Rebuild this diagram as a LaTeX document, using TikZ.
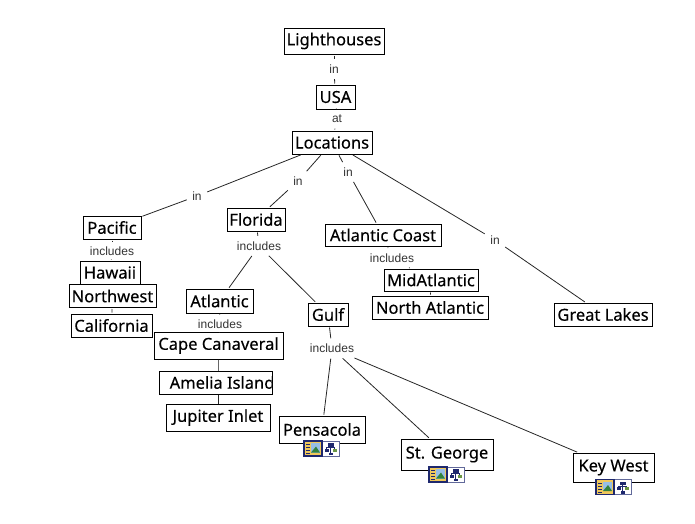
\documentclass[tikz,border=0pt]{standalone}
\usepackage{fontspec}
\setmainfont{Liberation Sans}
\newfontfamily\boxfont[FakeBold=0.25]{Noto Sans}
\definecolor{iconblue}{RGB}{30,40,110}
\definecolor{iconsand}{RGB}{240,200,90}
\definecolor{iconsky}{RGB}{150,190,230}
\definecolor{icongreen}{RGB}{50,130,60}
\tikzset{
  box/.style={draw, fill=white, line width=1pt, inner sep=0pt, font=\boxfont\fontsize{16.5}{18}\selectfont},
  rel/.style={inner sep=4.5pt, text=black!80, font=\fontsize{12}{13}\selectfont},
  link/.style={line width=.8pt, black!85, shorten <=1pt, shorten >=1pt},
  mapicons/.pic={
    \draw[iconblue!70, fill=white, line width=.7pt] (0,-7.5) rectangle (17,7.5);
    \draw[iconblue, fill=iconsand, line width=1.2pt] (-18,-7.5) rectangle (0,7.5);
    \fill[iconsky] (-11,-5.5) rectangle (-2,4);
    \fill[icongreen] (-11,4)--(-6,-2)--(-2,4)--cycle;
    \foreach \y in {-4,-1,2,5}
      \draw[iconblue, line width=.7pt] (-16,\y)--(-12,\y);
    \fill[iconblue] (5.5,-5.5) rectangle (11.5,-2);
    \fill[iconblue] (2.5,0) rectangle (6.5,3);
    \fill[icongreen!70!iconsand] (10.5,0) rectangle (14.5,3);
    \fill[iconblue] (6.5,4) rectangle (10.5,6.5);
    \draw[iconblue, line width=.6pt] (4.5,0)--(4.5,-1)--(12.5,-1)--(12.5,0) (8.5,-2)--(8.5,4);
  }
}
\begin{document}
\begin{tikzpicture}[x=1pt,y=-1pt]
\useasboundingbox (0,0) rectangle (695,523);
\node (lighthouses) at (334,41)[box, minimum width=100, minimum height=26]{Lighthouses};
\node (usa) at (335.5,97)[box, minimum width=39, minimum height=24]{USA};
\node (locations) at (332,142.5)[box, minimum width=80, minimum height=23]{Locations};
\node (pacific) at (112,227.5)[box, minimum width=58, minimum height=23]{Pacific};
\node (hawaii) at (110,272.5)[box, minimum width=60, minimum height=23]{Hawaii};
\node (northwest) at (112.5,296)[box, minimum width=87, minimum height=23]{Northwest};
\node (california) at (111.5,325.5)[box, minimum width=81, minimum height=23]{California};
\node (florida) at (256,219.5)[box, minimum width=58, minimum height=23]{Florida};
\node (atlantic) at (219.5,301)[box, minimum width=67, minimum height=24]{Atlantic};
\node (capecanaveral) at (218.5,345.5)[box, minimum width=129, minimum height=27]{Cape Canaveral};
\node (ameliaisland) at (215.5,382.5)[box, minimum width=113, minimum height=23]{};
% the last letter is cut off by the box
\begin{scope}
\clip (160,372) rectangle (271.5,394);
\node (ameliatext) at (169.5,382.5)[anchor=west, inner sep=0pt, font=\boxfont\fontsize{16.5}{18}\selectfont]{Amelia Island};
\end{scope}
\node (jupiterinlet) at (218,417.5)[box, minimum width=104, minimum height=27]{Jupiter Inlet};
\node (atlanticcoast) at (383,235)[box, minimum width=116, minimum height=22]{Atlantic Coast};
\node (midatlantic) at (431,280)[box, minimum width=94, minimum height=22]{MidAtlantic};
\node (northatlantic) at (430,307.5)[box, minimum width=116, minimum height=23]{North Atlantic};
\node (gulf) at (328,314.5)[box, minimum width=40, minimum height=23]{Gulf};
\node (greatlakes) at (603,314.5)[box, minimum width=98, minimum height=23]{Great Lakes};
\node (pensacola) at (322,429.5)[box, minimum width=86, minimum height=27]{Pensacola};
\node (stgeorge) at (447,454.5)[box, minimum width=92, minimum height=31]{St. George};
\node (keywest) at (613.5,467.5)[box, minimum width=81, minimum height=29]{Key West};
% relations
\node (inusa) at (334,69)[rel]{in};
\node (atlocations) at (337,119)[rel]{at};
\node (inpacific) at (197,196)[rel]{in};
\node (inflorida) at (298,181)[rel]{in};
\node (incoast) at (348,172)[rel]{in};
\node (inlakes) at (495,240)[rel]{in};
\node (incpacific) at (112,251)[rel]{includes};
\node (incflorida) at (259,246)[rel]{includes};
\node (incatlantic) at (220,324)[rel]{includes};
\node (inccoast) at (392,258)[rel]{includes};
\node (incgulf) at (332,348.5)[rel]{includes};
\draw[link] (lighthouses)--(inusa);
\draw[link] (inusa)--(usa);
\draw[link] (usa)--(atlocations);
\draw[link] (atlocations)--(locations);
\foreach \a/\b in {locations/inpacific, inpacific/pacific, locations/inflorida, inflorida/florida,
  locations/incoast, incoast/atlanticcoast, locations/inlakes, inlakes/greatlakes,
  pacific/incpacific, incpacific/hawaii, northwest/california,
  florida/incflorida, incflorida/atlantic, incflorida/gulf,
  atlantic/incatlantic, incatlantic/capecanaveral,
  atlanticcoast/inccoast, inccoast/midatlantic, midatlantic/northatlantic,
  gulf/incgulf, incgulf/pensacola, incgulf/stgeorge, incgulf/keywest}
  \draw[link] (\a)--(\b);
\draw[line width=1.6pt, black!60] (capecanaveral.south)--(capecanaveral.south |- ameliaisland.north);
\draw[line width=.8pt, black!85] (jupiterinlet.north)--(jupiterinlet.north |- ameliaisland.south);
\pic at (322,448.5){mapicons};
\pic at (447,474.5){mapicons};
\pic at (614,487){mapicons};
\end{tikzpicture}
\end{document}
